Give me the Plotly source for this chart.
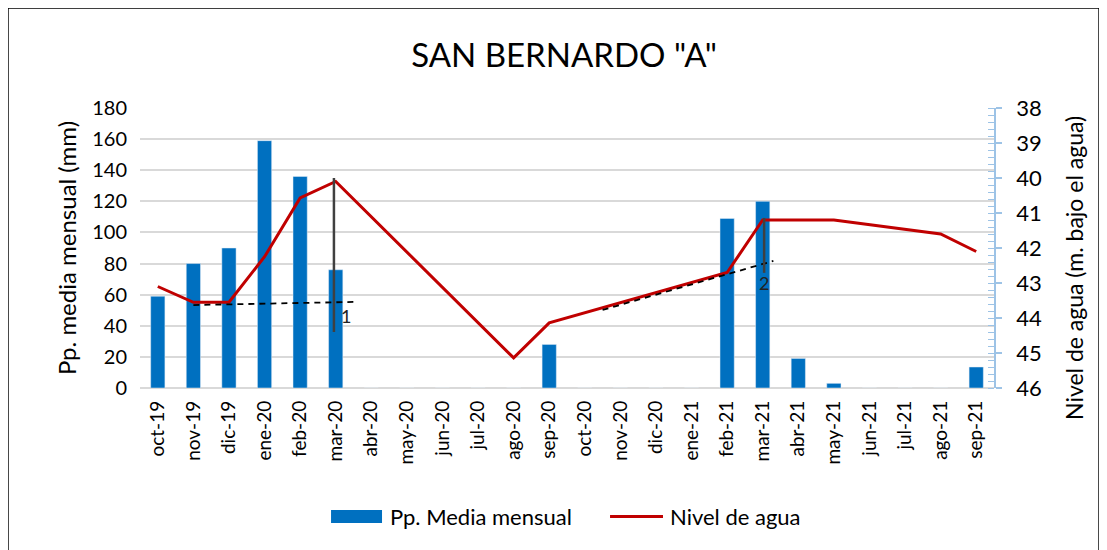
import plotly.graph_objects as go

categories = ["oct-19", "nov-19", "dic-19", "ene-20", "feb-20", "mar-20", "abr-20", "may-20",
              "jun-20", "jul-20", "ago-20", "sep-20", "oct-20", "nov-20", "dic-20", "ene-21",
              "feb-21", "mar-21", "abr-21", "may-21", "jun-21", "jul-21", "ago-21", "sep-21"]
pp_media = [59, 80, 90, 159, 136, 76, 0, 0, 0, 0, 0, 28, 0, 0, 0, 0,
            109, 120, 19, 3, 0, 0, 0, 13.5]
nivel_agua = [43.1, 43.55, 43.55, 42.25, 40.57, 40.1, None, None, None, None, 45.14, 44.14,
              None, None, None, None, 42.7, 41.2, 41.2, 41.2, None, None, 41.6, 42.1]

# trend / range markers (x as category index, y in metres)
trend1_x = [1, 5.55]
trend1_y = [43.63, 43.54]
range1_x = [4.95, 4.95]
range1_y = [40.0, 44.4]
trend2_x = [12.5, 17.3]
trend2_y = [43.77, 42.37]
range2_x = [17.04, 17.04]
range2_y = [41.14, 42.71]
labels_txt = ["1", "2"]
labels_x = [5.3, 17.05]
labels_y = [43.95, 43.0]

series_names = ["Pp. Media mensual", "Nivel de agua"]

idx = list(range(len(categories)))
FONT = "Lato, Carlito, Calibri, sans-serif"
BLUE = "#0070C0"
RED = "#C00000"

fig = go.Figure()
fig.add_trace(go.Bar(x=idx, y=pp_media, name=series_names[0], marker_color=BLUE,
                     width=0.4, yaxis="y", showlegend=False))
fig.add_trace(go.Scatter(x=idx, y=nivel_agua, name=series_names[1], mode="lines",
                         line=dict(color=RED, width=3), connectgaps=True, yaxis="y2",
                         showlegend=False))
for tx, ty in [(trend1_x, trend1_y), (trend2_x, trend2_y)]:
    fig.add_trace(go.Scatter(x=tx, y=ty, mode="lines", line=dict(color="black", width=1.8, dash="6px,5px"),
                             yaxis="y2", showlegend=False, hoverinfo="skip"))
for rx, ry in [(range1_x, range1_y), (range2_x, range2_y)]:
    fig.add_trace(go.Scatter(x=rx, y=ry, mode="lines", line=dict(color="#404040", width=2.5),
                             yaxis="y2", showlegend=False, hoverinfo="skip"))
for t, lx, ly in zip(labels_txt, labels_x, labels_y):
    fig.add_annotation(x=lx, y=ly, xref="x", yref="y2", text=t, showarrow=False,
                       font=dict(family=FONT, size=18, color="#222"))

# outer frame
fig.add_shape(type="rect", xref="paper", yref="paper", x0=-0.1546, x1=1.123, y0=-0.7, y1=1.357,
              line=dict(color="black", width=1.5), fillcolor="rgba(0,0,0,0)", layer="below")

# manual legend
fig.add_shape(type="rect", xref="paper", yref="paper", x0=0.2237, x1=0.2834, y0=-0.482, y1=-0.4357,
              line=dict(width=0), fillcolor=BLUE)
fig.add_shape(type="line", xref="paper", yref="paper", x0=0.5504, x1=0.6124, y0=-0.459, y1=-0.459,
              line=dict(color=RED, width=3))
fig.add_annotation(x=0.2904, y=-0.459, xref="paper", yref="paper", text=series_names[0],
                   showarrow=False, xanchor="left", yanchor="middle", font=dict(size=22, family=FONT))
fig.add_annotation(x=0.6183, y=-0.459, xref="paper", yref="paper", text=series_names[1],
                   showarrow=False, xanchor="left", yanchor="middle", font=dict(size=22, family=FONT))

# right axis title (placed as in the reference, slightly below axis centre)
fig.add_annotation(x=1.0937, y=0.4286, xref="paper", yref="paper", text="Nivel de agua (m. bajo el agua)",
                   showarrow=False, textangle=-90, xanchor="center", yanchor="middle",
                   font=dict(size=23, family=FONT, color="black"))

fig.update_layout(
    width=1099, height=542,
    margin=dict(l=132, r=113, t=100, b=162),
    paper_bgcolor="white", plot_bgcolor="white",
    font=dict(family=FONT, color="black"),
    title=dict(text='SAN BERNARDO "A"', x=0.506, xanchor="center", y=0.913, yanchor="middle",
               font=dict(size=33, family=FONT, color="black")),
    xaxis=dict(range=[-0.5, 23.5], tickmode="array", tickvals=idx, ticktext=categories,
               tickangle=-90, tickfont=dict(size=19), showgrid=False, zeroline=False,
               showline=False, ticks="", ticklabelstandoff=8),
    yaxis=dict(range=[0, 180], dtick=20, showgrid=True, gridcolor="#D9D9D9", gridwidth=1.5,
               zeroline=True, zerolinecolor="#D9D9D9", zerolinewidth=1.5,
               tickfont=dict(size=20), ticks="", ticklabelstandoff=12,
               title=dict(text="Pp. media mensual (mm)", font=dict(size=24), standoff=8)),
    yaxis2=dict(range=[46, 38], dtick=1, overlaying="y", side="right", showgrid=False,
                zeroline=False, showline=True, linecolor="#9DC3E6", linewidth=1.5,
                ticks="outside", ticklen=6, tickcolor="#9DC3E6", tickwidth=1.5,
                minor=dict(dtick=0.2, ticks="inside", ticklen=6, tickcolor="#9DC3E6", tickwidth=1),
                tickfont=dict(size=22), ticklabelstandoff=10),
    showlegend=False,
    bargap=0.6,
)

fig.write_html("out.html")
